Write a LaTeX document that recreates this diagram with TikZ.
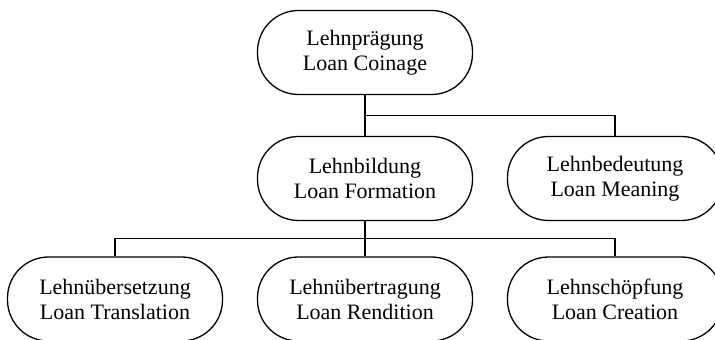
\documentclass[tikz,border=0pt]{standalone}
\usepackage{fontspec}
\setmainfont{Liberation Serif}
\usetikzlibrary{calc}

\begin{document}
\begin{tikzpicture}[x=1pt,y=1pt,
  term/.style={draw,line width=1.3pt,rounded corners=41pt,minimum width=215pt,
    minimum height=84pt,align=center,font=\fontsize{22}{25}\selectfont},
  line/.style={line width=1.3pt}]
\useasboundingbox (0,0) rectangle (715,340);
\node[term] (coin) at (365,287.5) {Lehnprägung\\Loan Coinage};
\node[term] (form) at (365,161.5) {Lehnbildung\\Loan Formation};
\node[term] (mean) at (615,161.5) {Lehnbedeutung\\Loan Meaning};
\node[term] (trans) at (115,41) {Lehnübersetzung\\Loan Translation};
\node[term] (rend) at (365,41) {Lehnübertragung\\Loan Rendition};
\node[term] (crea) at (615,41) {Lehnschöpfung\\Loan Creation};
\coordinate (bus1) at ($(coin.south)!0.5!(form.north)$);
\coordinate (bus2) at ($(form.south)!0.5!(rend.north)$);
\draw[line] (coin) -- (form);
\draw[line] (bus1) -| (mean);
\draw[line] (form) -- (rend);
\draw[line] (trans) |- (bus2) -| (crea);
\end{tikzpicture}
\end{document}
